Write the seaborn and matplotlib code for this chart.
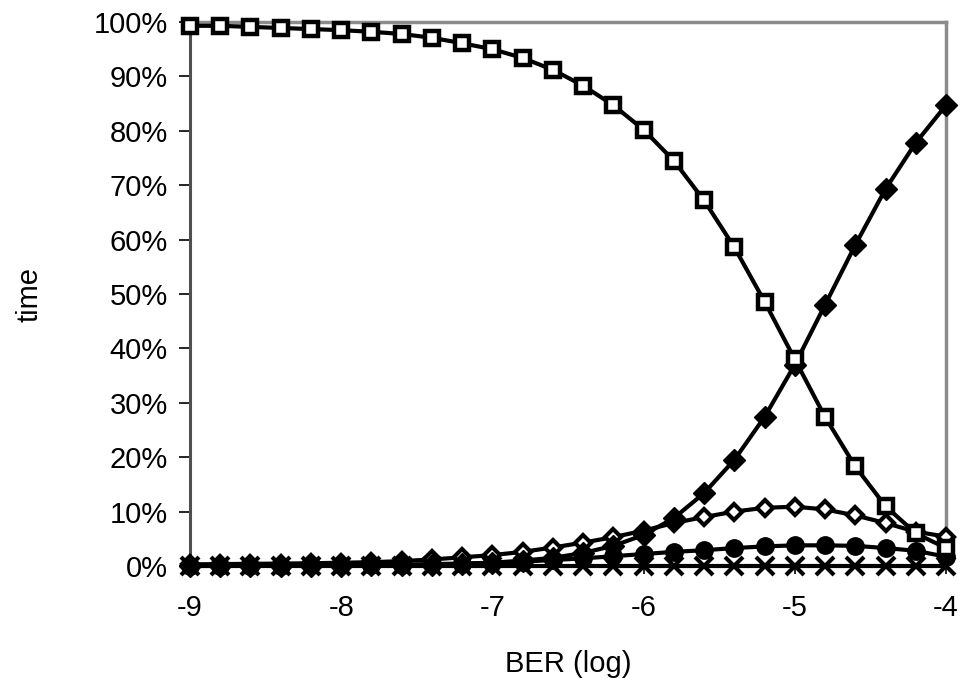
import matplotlib
matplotlib.use("Agg")
import matplotlib.pyplot as plt
import seaborn as sns
from matplotlib.ticker import PercentFormatter

ber_log = [-9.0, -8.8, -8.6, -8.4, -8.2, -8.0, -7.8, -7.6, -7.4, -7.2, -7.0, -6.8, -6.6,
           -6.4, -6.2, -6.0, -5.8, -5.6, -5.4, -5.2, -5.0, -4.8, -4.6, -4.4, -4.2, -4.0]

open_square = [99.3, 99.3, 99.1, 98.9, 98.7, 98.5, 98.2, 97.8, 97.1, 96.1, 95.0, 93.4, 91.2,
               88.3, 84.7, 80.2, 74.5, 67.2, 58.6, 48.6, 38.0, 27.4, 18.3, 11.0, 6.0, 3.3]
filled_diamond = [0.01, 0.01, 0.02, 0.03, 0.04, 0.06, 0.1, 0.16, 0.25, 0.4, 0.6, 1.0, 1.5,
                  2.4, 3.7, 5.7, 8.8, 13.4, 19.5, 27.4, 37.0, 48.0, 59.0, 69.3, 77.8, 84.7]
open_diamond = [0.3, 0.35, 0.4, 0.45, 0.5, 0.6, 0.7, 0.9, 1.2, 1.6, 2.0, 2.6, 3.4,
                4.3, 5.3, 6.5, 7.9, 9.0, 10.0, 10.7, 10.9, 10.4, 9.3, 7.9, 6.3, 5.4]
filled_circle = [0.04, 0.05, 0.06, 0.08, 0.1, 0.15, 0.2, 0.25, 0.35, 0.45, 0.6, 0.8, 1.1,
                 1.4, 1.8, 2.2, 2.6, 2.9, 3.3, 3.6, 3.8, 3.8, 3.7, 3.3, 2.8, 1.7]
cross = [0.0] * 26

x_ticks = [-9, -8, -7, -6, -5, -4]
y_ticks = [0, 10, 20, 30, 40, 50, 60, 70, 80, 90, 100]

sns.set_style("white")
plt.rcParams['font.family'] = ['Liberation Sans', 'DejaVu Sans']
plt.rcParams['text.color'] = 'black'
plt.rcParams['axes.labelcolor'] = 'black'
plt.rcParams['xtick.color'] = 'black'
plt.rcParams['ytick.color'] = 'black'
plt.rcParams['lines.solid_joinstyle'] = 'round'

fig = plt.figure(figsize=(9.6, 6.93), dpi=100)
ax = fig.add_axes([190/960, 1 - 566/693, (946 - 190)/960, (566 - 22)/693])

lw = 3.0
series = [
    (cross, dict(marker='x', markersize=13, markeredgewidth=3.0,
                 markeredgecolor='black', color='black')),
    (filled_circle, dict(marker='o', markersize=12.5, markerfacecolor='black',
                         markeredgecolor='black', markeredgewidth=1, color='black')),
    (open_diamond, dict(marker='D', markersize=8.5, markerfacecolor='white',
                        markeredgecolor='black', markeredgewidth=3.0, color='black')),
    (filled_diamond, dict(marker='D', markersize=11, markerfacecolor='black',
                          markeredgecolor='black', markeredgewidth=1, color='black')),
    (open_square, dict(marker='s', markersize=10, markerfacecolor='white',
                       markeredgecolor='black', markeredgewidth=3.2, color='black')),
]
for vals, kw in series:
    sns.lineplot(x=ber_log, y=vals, ax=ax, linewidth=lw, clip_on=False, zorder=3, **kw)

ax.set_xlim(-9, -4)
ax.set_ylim(0, 100)
ax.set_xticks(x_ticks)
ax.set_yticks(y_ticks)
ax.yaxis.set_major_formatter(PercentFormatter(decimals=0))
ax.set_xticklabels([str(v) for v in x_ticks])

for side in ['top', 'right']:
    ax.spines[side].set_color('#8c8c8c')
    ax.spines[side].set_linewidth(2.5)
ax.spines['left'].set_color('#505050')
ax.spines['left'].set_linewidth(2.2)
ax.spines['bottom'].set_color('black')
ax.spines['bottom'].set_linewidth(2.0)
ax.spines['bottom'].set_zorder(2)

ax.tick_params(axis='y', direction='out', length=8, width=1.2, labelsize=21, pad=8)
ax.tick_params(axis='x', direction='out', length=6, width=1.2, labelsize=21, pad=14)
ax.tick_params(left=True, bottom=True)

ax.set_xlabel("BER (log)", fontsize=21, labelpad=20)
ax.set_ylabel("time", fontsize=21, labelpad=36)

fig.savefig("out.png", dpi=100)
